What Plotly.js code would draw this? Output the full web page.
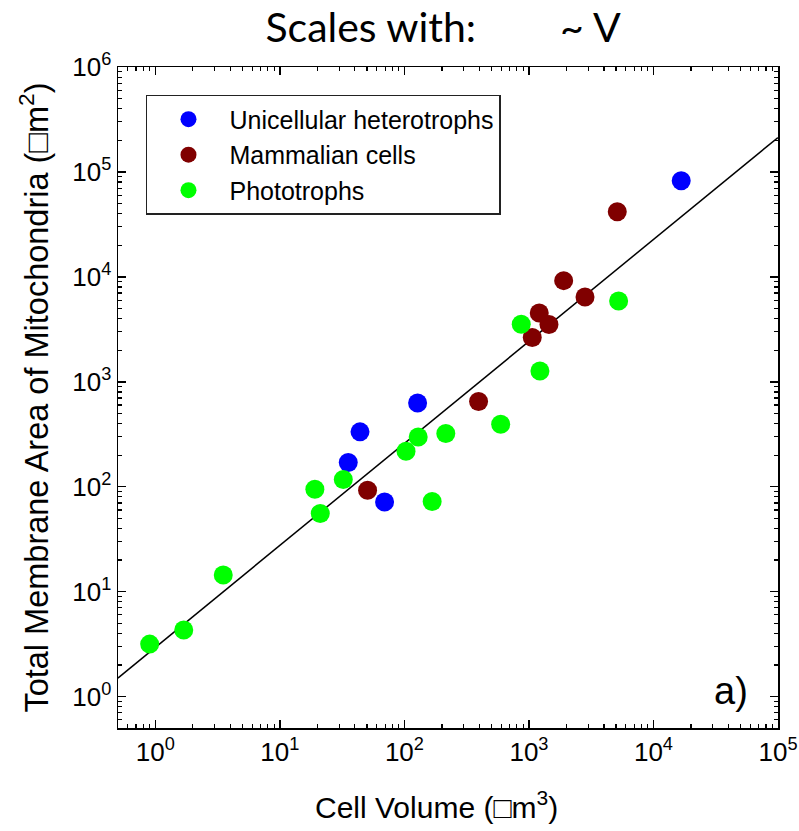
<!DOCTYPE html>
<html>
<head>
<meta charset="utf-8">
<script src="https://cdn.plot.ly/plotly-3.0.1.min.js"></script>
<style>html,body{margin:0;padding:0;background:#fff;}#chart{width:799px;height:831px;}</style>
</head>
<body>
<div id="chart"></div>
<script>
// Unicellular heterotrophs
const uniX = [35.4, 44, 69.3, 127.6, 16700];
const uniY = [170, 333, 71.6, 628, 82400];
// Mammalian cells
const mamX = [50.6, 394, 1063, 1210, 1448, 1900, 2820, 5120];
const mamY = [92.6, 648, 2640, 4520, 3510, 9200, 6430, 41800];
// Phototrophs
const phoX = [0.90, 1.69, 3.51, 19.1, 21.1, 32.3, 103, 129, 167, 215, 593, 867, 1225, 5250];
const phoY = [3.16, 4.30, 14.4, 94.7, 55.6, 117, 218, 298, 72.3, 321, 394, 3530, 1268, 5890];
// Fit line endpoints
const fitX = [0.5, 100000];
const fitY = [1.5, 213000];
// Tick labels
const xTickVals = [1, 10, 100, 1000, 10000, 100000];
const xTickText = ['10<sup>0</sup>', '10<sup>1</sup>', '10<sup>2</sup>', '10<sup>3</sup>', '10<sup>4</sup>', '10<sup>5</sup>'];
const yTickVals = [1, 10, 100, 1000, 10000, 100000, 1000000];
const yTickText = ['10<sup>0</sup>', '10<sup>1</sup>', '10<sup>2</sup>', '10<sup>3</sup>', '10<sup>4</sup>', '10<sup>5</sup>', '10<sup>6</sup>'];

const MS = 19;
const traces = [
  {x: fitX, y: fitY, mode: 'lines', line: {color: '#000', width: 1.5}, showlegend: false, hoverinfo: 'skip'},
  {x: uniX, y: uniY, mode: 'markers', name: 'Unicellular heterotrophs', marker: {color: '#0000FF', size: MS}},
  {x: mamX, y: mamY, mode: 'markers', name: 'Mammalian cells', marker: {color: '#800000', size: MS}},
  {x: phoX, y: phoY, mode: 'markers', name: 'Phototrophs', marker: {color: '#00FF00', size: MS}}
];

const axisCommon = {
  type: 'log', showline: true, linecolor: '#000', linewidth: 1.5, mirror: 'allticks',
  ticks: 'inside', ticklen: 8, tickwidth: 1.5, tickcolor: '#000',
  showgrid: false, zeroline: false,
  tickfont: {family: 'Liberation Sans, Arial, sans-serif', size: 26, color: '#000'},
  minor: {ticks: 'inside', ticklen: 4, tickwidth: 1.2, tickcolor: '#000', dtick: 'D1', showgrid: false}
};

const layout = {
  width: 799, height: 831,
  margin: {l: 118, r: 21, t: 67, b: 103},
  paper_bgcolor: '#fff', plot_bgcolor: '#fff',
  title: {
    text: 'Scales with:\u00A0\u00A0\u00A0\u00A0\u00A0\u00A0\u00A0\u00A0~ V',
    font: {family: 'Lato, Carlito, sans-serif', size: 41, color: '#000'},
    xref: 'container', x: 0.5545, xanchor: 'center',
    yref: 'container', y: 0.967, yanchor: 'middle'
  },
  xaxis: Object.assign({}, axisCommon, {
    range: [-0.3, 5], tickvals: xTickVals, ticktext: xTickText
  }),
  yaxis: Object.assign({}, axisCommon, {
    range: [-0.3, 6], tickvals: yTickVals, ticktext: yTickText,
    title: {text: 'Total Membrane Area of Mitochondria (\u25A1m<sup>2</sup>)', font: {family: 'Liberation Sans, Arial, sans-serif', size: 32.5, color: '#000'}, standoff: 14}
  }),
  legend: {
    x: 0.0424, y: 0.9577, xanchor: 'left', yanchor: 'top',
    bordercolor: '#222', borderwidth: 1.5, bgcolor: '#fff',
    font: {family: 'Liberation Sans, Arial, sans-serif', size: 25, color: '#000'},
    itemwidth: 72, tracegroupgap: 0
  },
  annotations: [
    {text: 'Cell Volume (\u25A1m<sup>3</sup>)', xref: 'paper', yref: 'paper', x: 0.482, y: -0.1165,
     xanchor: 'center', yanchor: 'middle', showarrow: false,
     font: {family: 'Liberation Sans, Arial, sans-serif', size: 30, color: '#000'}},
    {text: 'a)', xref: 'paper', yref: 'paper', x: 0.929, y: 0.056, xanchor: 'center', yanchor: 'middle',
     showarrow: false, font: {family: 'Liberation Sans, Arial, sans-serif', size: 38, color: '#000'}}
  ]
};

Plotly.newPlot('chart', traces, layout, {displayModeBar: false, staticPlot: true});
</script>
</body>
</html>
